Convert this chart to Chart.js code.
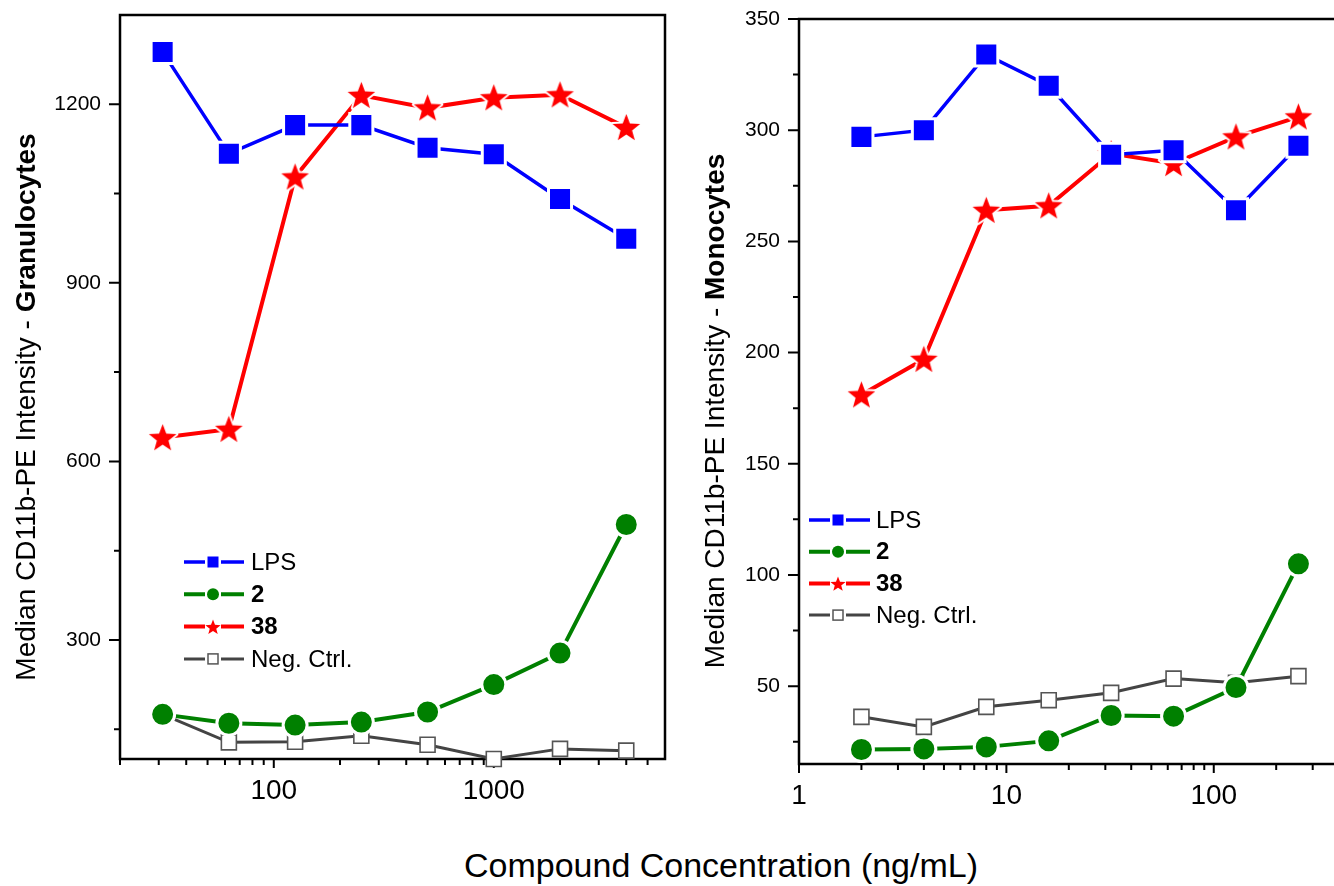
<!DOCTYPE html>
<html>
<head>
<meta charset="utf-8">
<script src="https://cdn.jsdelivr.net/npm/chart.js@4.4.0/dist/chart.umd.min.js"></script>
<style>
    body { margin: 0; background: #fff; width: 1334px; height: 886px; overflow: hidden; position: relative;
           font-family: "Liberation Sans", Arial, Helvetica, sans-serif; }
    #izq { position: absolute; left: 0; top: 0; }
    #der { position: absolute; left: 680px; top: 0; }
    #tituloX { position: absolute; left: 0; top: 849px; width: 1442px; text-align: center;
               font-size: 34px; line-height: 33px; color: #000; white-space: nowrap; }
</style>
</head>
<body>
<canvas id="izq" width="680" height="830"></canvas>
<canvas id="der" width="654" height="830"></canvas>
<div id="tituloX">Compound Concentration (ng/mL)</div>

<script>
// Datos - Granulocitos (panel izquierdo)
const concGran = [31.25, 62.5, 125, 250, 500, 1000, 2000, 4000];
const granLPS = [1288, 1117, 1165, 1165, 1127, 1116, 1041, 974];
const gran2 = [175, 160, 157, 162, 179, 225, 278, 494];
const gran38 = [640, 654, 1078, 1215, 1194, 1211, 1216, 1161];
const granNeg = [175, 128, 129, 139, 124, 100, 117, 114];

// Datos - Monocitos (panel derecho)
const concMono = [2, 4, 8, 16, 32, 64, 128, 256];
const monoLPS = [297, 300, 334, 320, 289, 291, 264, 293];
const mono2 = [21.5, 21.8, 22.7, 25.4, 36.8, 36.5, 49.4, 105];
const mono38 = [181, 197, 264, 266, 289.5, 285, 297, 306];
const monoNeg = [36.2, 31.7, 40.7, 43.7, 47, 53.4, 51.5, 54.5];

// Nombres de las series
const nombres = ['LPS', '2', '38', 'Neg. Ctrl.'];
const nombresNegrita = ['2', '38'];

// Marcas de los ejes
const granTicksX = [20, 30, 40, 50, 60, 70, 80, 90, 100, 200, 300, 400, 500, 600, 700, 800, 900, 1000, 2000, 3000, 4000, 5000];
const granEtiquetasX = [100, 1000];
const granTicksY = [300, 600, 900, 1200];
const granTicksYMenor = [150, 450, 750, 1050];

const monoTicksX = [1, 2, 3, 4, 5, 6, 7, 8, 9, 10, 20, 30, 40, 50, 60, 70, 80, 90, 100, 200, 300];
const monoEtiquetasX = [1, 10, 100];
const monoTicksY = [50, 100, 150, 200, 250, 300, 350];
const monoTicksYMenor = [25, 75, 125, 175, 225, 275, 325];

const familia = '"Liberation Sans", Arial, Helvetica, sans-serif';
Chart.defaults.font.family = familia;
Chart.defaults.color = '#000';

// Estrella de 5 puntas (Chart.js no trae una rellena)
function trazarEstrella(ctx, cx, cy, rExt, rInt) {
    ctx.beginPath();
    for (let i = 0; i < 10; i++) {
        const r = i % 2 === 0 ? rExt : rInt;
        const a = -Math.PI / 2 + i * Math.PI / 5;
        ctx.lineTo(cx + r * Math.cos(a), cy + r * Math.sin(a));
    }
    ctx.closePath();
}

function crearEstrella(rExt) {
    const c = document.createElement('canvas');
    const t = Math.ceil(2 * rExt + 8);
    c.width = t;
    c.height = t;
    const g = c.getContext('2d');
    trazarEstrella(g, t / 2, t / 2 + 1, rExt, rExt * 0.42);
    g.strokeStyle = '#fff';
    g.lineWidth = 4;
    g.lineJoin = 'round';
    g.stroke();
    g.fillStyle = '#ff0000';
    g.fill();
    return c;
}
const estrella = crearEstrella(14.5);

function series(conc, lps, s2, s38, neg) {
    const pares = vals => conc.map((c, k) => ({ x: c, y: vals[k] }));
    return [
        {
            label: nombres[0], data: pares(lps), tipo: 'cuadro',
            borderColor: '#0000ff', borderWidth: 3.5,
            pointStyle: 'rect', pointRadius: 16.3,
            pointBackgroundColor: '#0000ff', pointBorderColor: '#fff', pointBorderWidth: 3,
            clip: false
        },
        {
            label: nombres[1], data: pares(s2), tipo: 'circulo',
            borderColor: '#008000', borderWidth: 4,
            pointStyle: 'circle', pointRadius: 12,
            pointBackgroundColor: '#008000', pointBorderColor: '#fff', pointBorderWidth: 3,
            clip: false
        },
        {
            label: nombres[2], data: pares(s38), tipo: 'estrella',
            borderColor: '#ff0000', borderWidth: 4,
            pointStyle: estrella, pointRadius: 14,
            clip: false
        },
        {
            label: nombres[3], data: pares(neg), tipo: 'abierto',
            borderColor: '#444444', borderWidth: 3,
            pointStyle: 'rect', pointRadius: 10.6,
            pointBackgroundColor: '#fff', pointBorderColor: '#555555', pointBorderWidth: 1.6,
            clip: false
        }
    ];
}

// Marco del area y marcas de los ejes (mayores largas, menores cortas)
const marco = {
    id: 'marco',
    beforeDatasetsDraw(chart, args, opts) {
        const { ctx, chartArea: a, scales: { x, y } } = chart;
        ctx.save();
        ctx.strokeStyle = '#000';
        ctx.lineWidth = 2.5;
        ctx.lineCap = 'square';
        ctx.beginPath();
        if (opts.derecho) {
            ctx.rect(a.left, a.top, a.right - a.left, a.bottom - a.top);
        } else {
            ctx.moveTo(a.right + 2, a.top);
            ctx.lineTo(a.left, a.top);
            ctx.lineTo(a.left, a.bottom);
            ctx.lineTo(a.right + 2, a.bottom);
        }
        ctx.stroke();
        ctx.lineWidth = 2;
        ctx.lineCap = 'butt';
        ctx.beginPath();
        x.ticks.forEach(t => {
            const px = x.getPixelForValue(t.value);
            const l = t.grande ? 9 : 6;
            ctx.moveTo(px, a.bottom);
            ctx.lineTo(px, a.bottom + l);
        });
        y.ticks.forEach(t => {
            const py = y.getPixelForValue(t.value);
            const l = t.grande ? 11 : 6;
            ctx.moveTo(a.left, py);
            ctx.lineTo(a.left - l, py);
        });
        ctx.stroke();
        ctx.restore();
    }
};

// Titulo del eje Y con parte en negrita
const tituloEje = {
    id: 'tituloEje',
    afterDraw(chart, args, opts) {
        const ctx = chart.ctx;
        ctx.save();
        ctx.translate(opts.x, opts.y);
        ctx.rotate(-Math.PI / 2);
        ctx.fillStyle = '#000';
        ctx.textBaseline = 'alphabetic';
        const fN = '28px ' + familia;
        const fB = 'bold 28px ' + familia;
        ctx.font = fN;
        const w1 = ctx.measureText(opts.normal).width;
        ctx.font = fB;
        const w2 = ctx.measureText(opts.negrita).width;
        const x0 = -(w1 + w2) / 2;
        ctx.font = fN;
        ctx.fillText(opts.normal, x0, 0);
        ctx.font = fB;
        ctx.fillText(opts.negrita, x0 + w1, 0);
        ctx.restore();
    }
};

// Leyenda estilo Origin: linea - marcador - linea
const leyenda = {
    id: 'leyendaOrigin',
    afterDraw(chart, args, opts) {
        const ctx = chart.ctx;
        ctx.save();
        chart.data.datasets.forEach((ds, i) => {
            const yy = opts.y0 + i * opts.paso;
            const xm = opts.xm;
            ctx.strokeStyle = ds.borderColor;
            ctx.lineWidth = ds.borderWidth;
            ctx.beginPath();
            ctx.moveTo(opts.x0, yy);
            ctx.lineTo(xm - 8, yy);
            ctx.moveTo(xm + 8, yy);
            ctx.lineTo(opts.x1, yy);
            ctx.stroke();
            if (ds.tipo === 'cuadro') {
                ctx.fillStyle = ds.borderColor;
                ctx.fillRect(xm - 5.5, yy - 5.5, 11, 11);
            } else if (ds.tipo === 'circulo') {
                ctx.fillStyle = ds.borderColor;
                ctx.beginPath();
                ctx.arc(xm, yy, 6, 0, Math.PI * 2);
                ctx.fill();
            } else if (ds.tipo === 'estrella') {
                ctx.fillStyle = '#ff0000';
                trazarEstrella(ctx, xm, yy + 1, 8, 3.4);
                ctx.fill();
            } else {
                ctx.fillStyle = '#fff';
                ctx.fillRect(xm - 5, yy - 5, 10, 10);
                ctx.strokeStyle = '#555555';
                ctx.lineWidth = 1.5;
                ctx.strokeRect(xm - 5, yy - 5, 10, 10);
            }
            const negrita = nombresNegrita.includes(ds.label);
            ctx.font = (negrita ? 'bold ' : '') + '24px ' + familia;
            ctx.fillStyle = '#000';
            ctx.textBaseline = 'middle';
            ctx.fillText(ds.label, opts.xt, yy + 1);
        });
        ctx.restore();
    }
};

function crearGrafico(id, datasets, cfg) {
    const ctx = document.getElementById(id).getContext('2d');
    return new Chart(ctx, {
        type: 'line',
        data: { datasets: datasets },
        plugins: [marco, tituloEje, leyenda],
        options: {
            responsive: false,
            animation: false,
            events: [],
            layout: { padding: cfg.padding, autoPadding: false },
            elements: { line: { tension: 0 } },
            scales: {
                x: {
                    type: 'logarithmic',
                    min: cfg.xMin,
                    max: cfg.xMax,
                    grid: { display: false, drawTicks: false },
                    border: { display: false },
                    afterBuildTicks: s => {
                        s.ticks = cfg.ticksX.map(v => ({ value: v, grande: cfg.etiquetasX.includes(v) }));
                    },
                    afterFit: s => {
                        s.height = 60;
                        s.paddingLeft = 0;
                        s.paddingRight = 0;
                    },
                    ticks: {
                        autoSkip: false,
                        maxRotation: 0,
                        padding: 15,
                        font: { size: 28 },
                        callback: v => cfg.etiquetasX.includes(v) ? String(v) : ''
                    }
                },
                y: {
                    type: 'linear',
                    min: cfg.yMin,
                    max: cfg.yMax,
                    grid: { display: false, drawTicks: false },
                    border: { display: false },
                    afterBuildTicks: s => {
                        const mayores = cfg.ticksY.map(v => ({ value: v, grande: true }));
                        const menores = cfg.ticksYMenor.map(v => ({ value: v, grande: false }));
                        s.ticks = mayores.concat(menores).sort((a, b) => a.value - b.value);
                    },
                    afterFit: s => {
                        s.width = 90;
                        s.paddingTop = 0;
                        s.paddingBottom = 0;
                    },
                    ticks: {
                        autoSkip: false,
                        padding: 19,
                        font: { size: 21 },
                        callback: v => cfg.ticksY.includes(v) ? String(v) : ''
                    }
                }
            },
            plugins: {
                legend: { display: false },
                tooltip: { enabled: false },
                marco: { derecho: cfg.derecho },
                tituloEje: cfg.titulo,
                leyendaOrigin: cfg.leyenda
            }
        }
    });
}

// Panel izquierdo - Granulocitos
crearGrafico('izq', series(concGran, granLPS, gran2, gran38, granNeg), {
    padding: { left: 30, right: 15, top: 15, bottom: 11 },
    xMin: 20, xMax: 6000, yMin: 100, yMax: 1350,
    ticksX: granTicksX, etiquetasX: granEtiquetasX,
    ticksY: granTicksY, ticksYMenor: granTicksYMenor,
    derecho: true,
    titulo: { x: 35, y: 407, normal: 'Median CD11b-PE Intensity - ', negrita: 'Granulocytes' },
    leyenda: { x0: 184, x1: 244, xm: 213, xt: 251, y0: 562, paso: 32.3 }
});

// Panel derecho - Monocitos
crearGrafico('der', series(concMono, monoLPS, mono2, mono38, monoNeg), {
    padding: { left: 29, right: 0, top: 19, bottom: 6 },
    xMin: 1, xMax: 380, yMin: 15, yMax: 350,
    ticksX: monoTicksX, etiquetasX: monoEtiquetasX,
    ticksY: monoTicksY, ticksYMenor: monoTicksYMenor,
    derecho: false,
    titulo: { x: 44, y: 411, normal: 'Median CD11b-PE Intensity - ', negrita: 'Monocytes' },
    leyenda: { x0: 129, x1: 190, xm: 158, xt: 196, y0: 520, paso: 31.7 }
});
</script>
</body>
</html>
